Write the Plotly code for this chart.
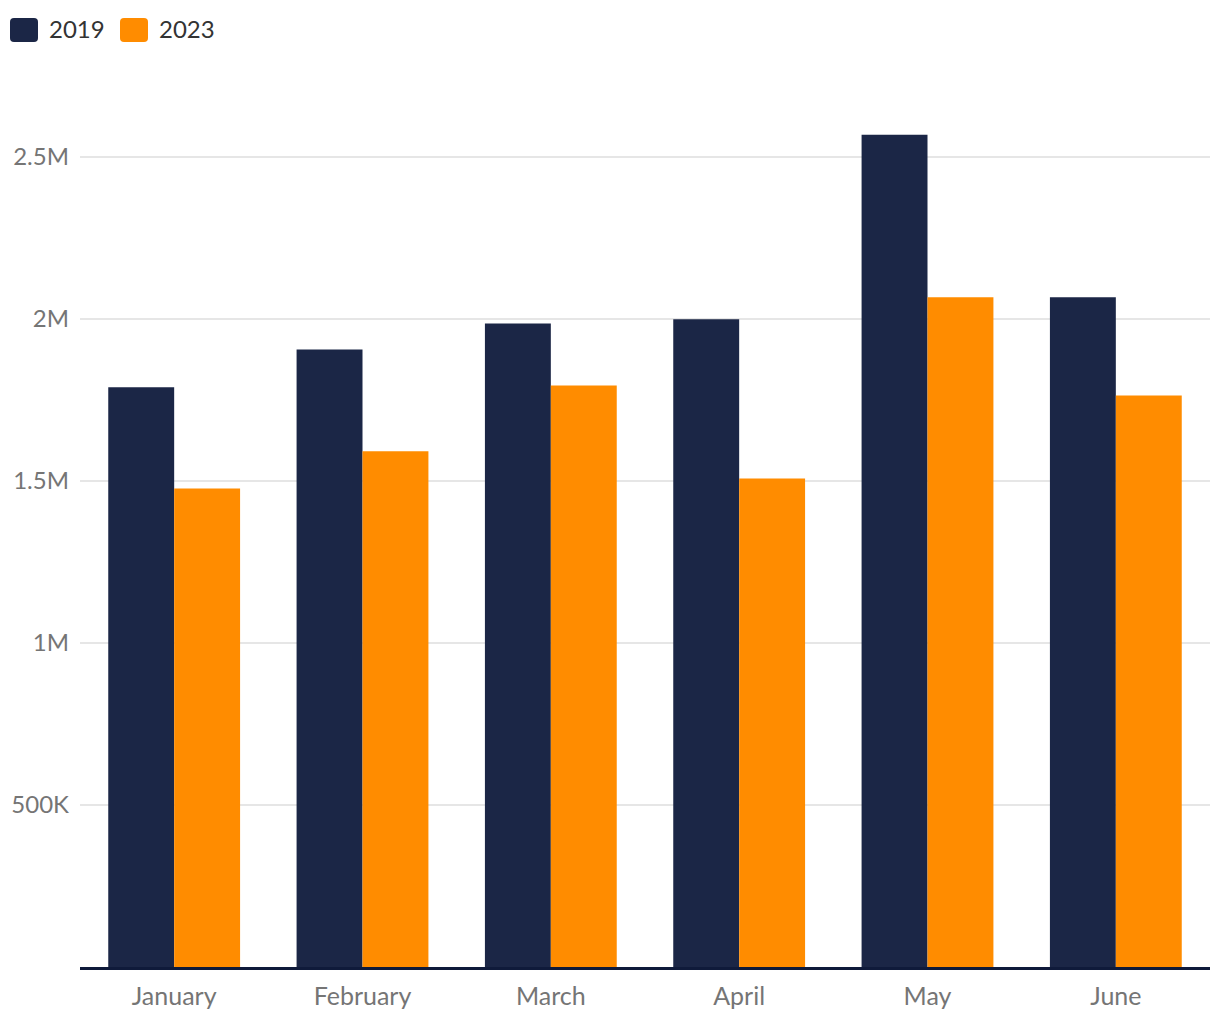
import plotly.graph_objects as go

months = ["January", "February", "March", "April", "May", "June"]
values_2019 = [1789000, 1906000, 1986000, 1999000, 2569000, 2067000]
values_2023 = [1477000, 1592000, 1795000, 1508000, 2067000, 1764000]
tick_vals = [500000, 1000000, 1500000, 2000000, 2500000]
tick_text = ["500K", "1M", "1.5M", "2M", "2.5M"]
series_names = ["2019", "2023"]

NAVY = "#1b2646"
ORANGE = "#ff8c00"
colors = [NAVY, ORANGE]
FONT = "Lato, 'PT Sans', sans-serif"

W, H = 1220, 1020
ML, MR, MT, MB = 80, 10, 76, 53
PW, PH = W - ML - MR, H - MT - MB


def px_x(px):
    return (px - ML) / PW


def px_y(py):
    return (H - MB - py) / PH


def rounded_rect(x0, y0, x1, y1, r):
    # pixel coordinates -> paper path with rounded corners
    X = px_x
    Y = px_y
    return (
        f"M {X(x0 + r)} {Y(y0)} L {X(x1 - r)} {Y(y0)} "
        f"Q {X(x1)} {Y(y0)} {X(x1)} {Y(y0 + r)} "
        f"L {X(x1)} {Y(y1 - r)} Q {X(x1)} {Y(y1)} {X(x1 - r)} {Y(y1)} "
        f"L {X(x0 + r)} {Y(y1)} Q {X(x0)} {Y(y1)} {X(x0)} {Y(y1 - r)} "
        f"L {X(x0)} {Y(y0 + r)} Q {X(x0)} {Y(y0)} {X(x0 + r)} {Y(y0)} Z"
    )


fig = go.Figure()
for name, vals, col in zip(series_names, [values_2019, values_2023], colors):
    fig.add_trace(go.Bar(x=months, y=vals, name=name, showlegend=False,
                         marker=dict(color=col, line=dict(width=0))))

# custom legend (rounded swatches + labels)
legend_x = [10, 120]
shapes = []
annotations = []
for lx, name, col in zip(legend_x, series_names, colors):
    shapes.append(dict(type="path", xref="paper", yref="paper",
                       path=rounded_rect(lx, 18, lx + 28, 42, 4),
                       fillcolor=col, line=dict(width=0), layer="above"))
    annotations.append(dict(text=name, xref="paper", yref="paper",
                            x=px_x(lx + 37), y=px_y(29), xanchor="left", yanchor="middle",
                            showarrow=False, font=dict(family=FONT, size=24, color="#333333")))

fig.update_layout(
    width=W,
    height=H,
    margin=dict(l=ML, r=MR, t=MT, b=MB, autoexpand=False),
    paper_bgcolor="white",
    plot_bgcolor="white",
    barmode="group",
    bargap=0.3,
    bargroupgap=0,
    showlegend=False,
    font=dict(family=FONT, size=24, color="#333333"),
    shapes=shapes,
    annotations=annotations,
    xaxis=dict(
        automargin=False,
        showgrid=False,
        showline=True,
        linecolor="#0f1a3a",
        linewidth=3,
        ticks="",
        tickfont=dict(size=25, color="#757575"),
        ticklabelstandoff=5,
        zeroline=False,
    ),
    yaxis=dict(
        automargin=False,
        range=[0, 2750000],
        tickvals=tick_vals,
        ticktext=tick_text,
        showgrid=True,
        gridcolor="#e6e6e6",
        gridwidth=2,
        zeroline=False,
        showline=False,
        ticks="",
        tickfont=dict(size=24, color="#757575"),
        ticklabelstandoff=10,
    ),
)

fig.write_html(
    "out.html",
    config={"displayModeBar": False},
    post_script="document.body.style.margin='0';document.body.style.overflow='hidden';",
)
